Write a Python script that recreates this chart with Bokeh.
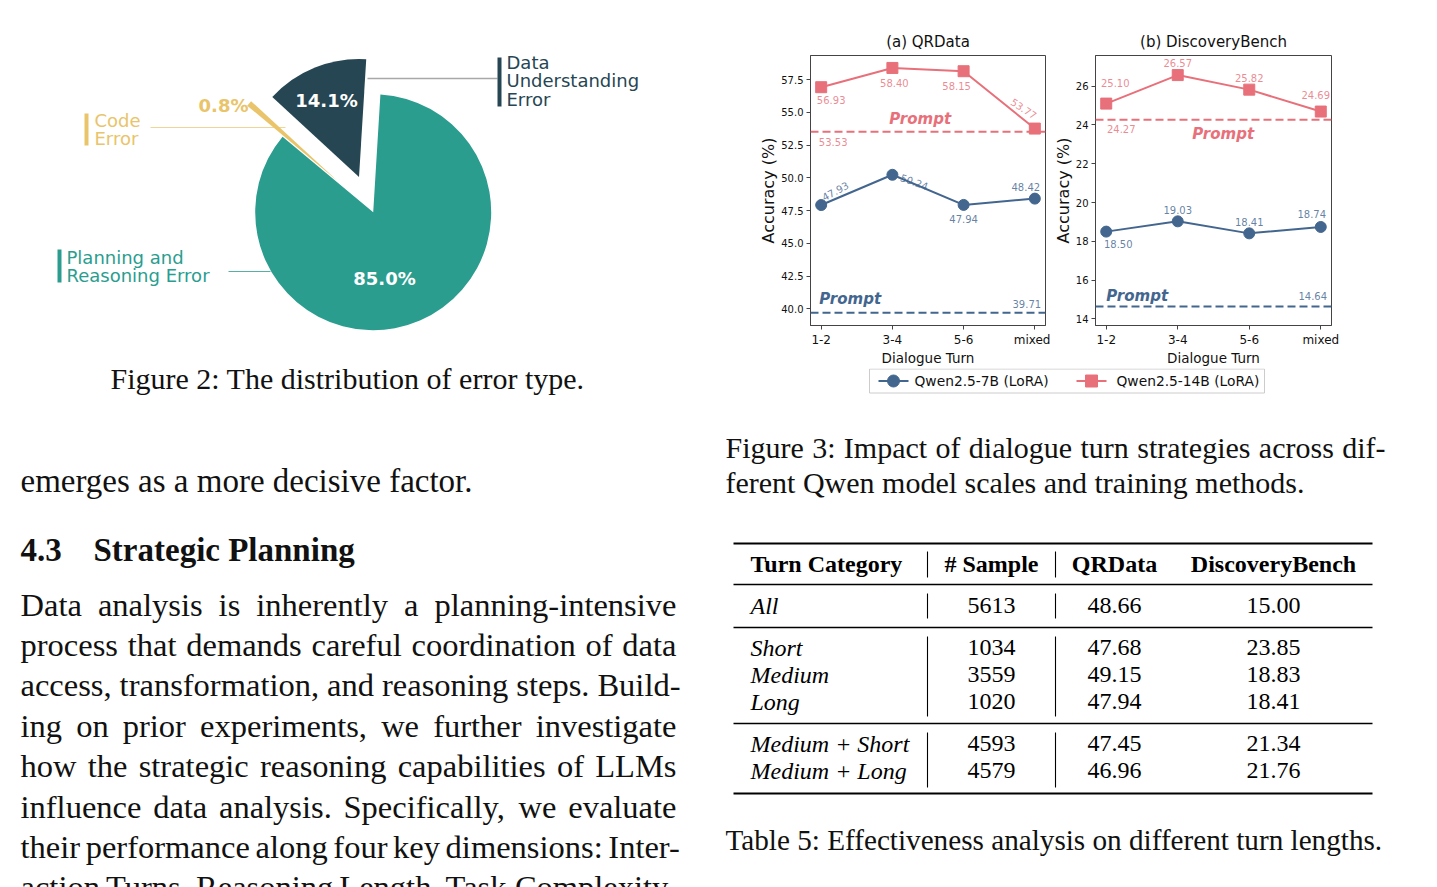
import numpy as np
from bokeh.plotting import figure
from bokeh.layouts import row, column
from bokeh.models import (Range1d, FixedTicker, NumeralTickFormatter, Label, Span)
from bokeh.embed import file_html
from bokeh.resources import INLINE

# ---------------- data ----------------
error_names = [["Data", "Understanding", "Error"], ["Code", "Error"], ["Planning and", "Reasoning Error"]]
error_share = [14.1, 0.8, 85.0]

turns = ["1-2", "3-4", "5-6", "mixed"]
qr_7b = [47.93, 50.24, 47.94, 48.42]
qr_14b = [56.93, 58.40, 58.15, 53.77]
qr_prompt_7b = 39.71
qr_prompt_14b = 53.53
db_7b = [18.50, 19.03, 18.41, 18.74]
db_14b = [25.10, 26.57, 25.82, 24.69]
db_prompt_7b = 14.64
db_prompt_14b = 24.27
series_names = ["Qwen2.5-7B (LoRA)", "Qwen2.5-14B (LoRA)"]

table_header = ["Turn Category", "# Sample", "QRData", "DiscoveryBench"]
table_category = ["All", "Short", "Medium", "Long", "Medium + Short", "Medium + Long"]
table_samples = [5613, 1034, 3559, 1020, 4593, 4579]
table_qrdata = [48.66, 47.68, 49.15, 47.94, 47.45, 46.96]
table_discovery = [15.00, 23.85, 18.83, 18.41, 21.34, 21.76]

# ---------------- styles ----------------
TEAL, DARK, GOLD = "#2a9d8f", "#264653", "#e9c46a"
BLUE, RED = "#43668f", "#e8707a"
SERIF = "Liberation Serif"
SANS = "DejaVu Sans"

# Times-compatible advance widths (1/1000 em), used to justify lines
_TW = {" ": 250, ",": 250, ".": 250, ":": 278, ";": 278, "-": 333, "(": 333, ")": 333, "+": 564}
_TW.update({d: 500 for d in "0123456789"})
_TW.update(dict(zip("ABCDEFGHIJKLMNOPQRSTUVWXYZ",
                    [722, 667, 667, 722, 611, 556, 722, 722, 333, 389, 722, 611, 889,
                     722, 722, 556, 722, 667, 556, 611, 722, 722, 944, 722, 722, 611])))
_TW.update(dict(zip("abcdefghijklmnopqrstuvwxyz",
                    [444, 500, 444, 500, 444, 333, 500, 500, 278, 278, 500, 278, 778,
                     500, 500, 500, 500, 333, 389, 278, 500, 500, 722, 500, 500, 444])))


def text_width(s, size):
    return sum(_TW.get(ch, 500) for ch in s) / 1000.0 * size


def label(p, x, y, s, size, font=SERIF, style="normal", color="#111111",
          align="left", baseline="middle", angle=0, dx=0, dy=0, alpha=1.0):
    p.add_layout(Label(x=x, y=y, text=s, text_font=font, text_font_size=f"{size}px",
                       text_font_style=style, text_color=color, text_align=align,
                       text_baseline=baseline, angle=angle, angle_units="deg",
                       x_offset=dx, y_offset=dy, text_alpha=alpha))


def justified(p, s, x0, x1, y, size):
    words = s.split(" ")
    widths = [text_width(w, size) for w in words]
    gap = (x1 - x0 - sum(widths)) / max(len(words) - 1, 1)
    x = x0
    for w, wd in zip(words, widths):
        label(p, x, y, w, size)
        x += wd + gap


# ================= left column (pie + text) =================
left = figure(width=712, height=887, x_range=Range1d(0, 712), y_range=Range1d(-887, 0),
              x_axis_type=None, y_axis_type=None, output_backend="svg",
              toolbar_location=None, min_border=0, outline_line_color=None)

cx, cy, R = 372.7, -211.7, 118.0
start_deg = 86.5
explode_px = [38, 47, 0]
colors = [DARK, GOLD, TEAL]
frac = np.array(error_share) / np.sum(error_share)
edges = start_deg + 360 * np.concatenate([[0], np.cumsum(frac)])
a0, a1 = edges[:-1], edges[1:]
mid = np.radians((a0 + a1) / 2)
wx = cx + np.array(explode_px) * np.cos(mid)
wy = cy + np.array(explode_px) * np.sin(mid)
left.wedge(x=wx, y=wy, radius=R, start_angle=a0, end_angle=a1,
           start_angle_units="deg", end_angle_units="deg", direction="anticlock",
           fill_color=colors, line_color=None)

# percent labels
pct_pos = [(326, -100, "white"), (223, -105, GOLD), (384, -278, "white")]
for v, (px, py, c) in zip(error_share, pct_pos):
    label(left, px, py, f"{v:.1f}%", 18, font=SANS, style="bold", color=c, align="center")

# leader lines and category tags
left.line([367, 497], [-78, -78], line_color="#a8a8a8", line_width=1.5)
left.line([150, 285], [-127, -127], line_color=GOLD, line_alpha=0.7, line_width=1.2)
left.line([228, 270], [-271, -271], line_color=TEAL, line_alpha=0.8, line_width=1.2)
tag_bars = [(499, -57, -106), (86, -113, -145), (59, -249, -282)]
tag_text = [(506, [-62, -80, -99]), (94, [-120, -138]), (66, [-257, -275])]
for name, c, (bx, b0, b1), (tx, tys) in zip(error_names, colors, tag_bars, tag_text):
    left.line([bx, bx], [b0, b1], line_color=c, line_width=4)
    for s, ty in zip(name, tys):
        label(left, tx, ty, s, 18, font=SANS, color=c)

label(left, 110, -378, "Figure 2: The distribution of error type.", 30)

label(left, 20, -480, "emerges as a more decisive factor.", 33)
label(left, 20, -549, "4.3", 33, style="bold")
label(left, 93, -549, "Strategic Planning", 33, style="bold")
para = ["Data analysis is inherently a planning-intensive",
        "process that demands careful coordination of data",
        "access, transformation, and reasoning steps. Build-",
        "ing on prior experiments, we further investigate",
        "how the strategic reasoning capabilities of LLMs",
        "influence data analysis. Specifically, we evaluate",
        "their performance along four key dimensions: Inter-",
        "action Turns, Reasoning Length, Task Complexity,"]
for k, s in enumerate(para):
    right_edge = 680 if s.endswith("-") else 676
    justified(left, s, 20, right_edge, -(604 + 40.4 * k), 32.5)


# ================= line charts =================
def make_chart(title, y7, y14, p7, p14, yr, ticks, fmt, width, bl, br,
               off7, ang7, off14, ang14, prompt_cfg):
    p = figure(width=width, height=368, x_range=Range1d(-0.15, 3.15), y_range=Range1d(*yr),
               output_backend="svg", toolbar_location=None, title=title,
               min_border_left=bl, min_border_right=br, min_border_top=55, min_border_bottom=42,
               outline_line_color="#444444", outline_line_width=1)
    p.title.align = "center"
    p.title.text_font = SANS
    p.title.text_font_size = "15px"
    p.title.text_font_style = "normal"
    p.title.text_color = "#111111"
    p.xgrid.visible = False
    p.ygrid.visible = False
    xs = list(range(len(turns)))
    p.xaxis.ticker = FixedTicker(ticks=xs)
    p.xaxis.major_label_overrides = {i: t for i, t in enumerate(turns)}
    p.yaxis.ticker = FixedTicker(ticks=ticks)
    p.yaxis.formatter = NumeralTickFormatter(format=fmt)
    p.xaxis.axis_label = "Dialogue Turn"
    p.yaxis.axis_label = "Accuracy (%)"
    for ax, lsize, tsize in ((p.xaxis, "13.5px", "12px"), (p.yaxis, "16px", "10px")):
        ax.axis_label_text_font = SANS
        ax.axis_label_text_font_style = "normal"
        ax.axis_label_text_font_size = lsize
        ax.axis_label_text_color = "#111111"
        ax.major_label_text_font = SANS
        ax.major_label_text_font_size = tsize
        ax.major_label_text_color = "#111111"
        ax.major_tick_in = 0
        ax.major_tick_out = 4
        ax.minor_tick_line_color = None
        ax.axis_line_color = "#444444"
        ax.major_tick_line_color = "#444444"
        ax.axis_label_standoff = 0
    p.xaxis.major_label_standoff = 3
    p.yaxis.major_label_standoff = 3

    for pv, c in ((p14, RED), (p7, BLUE)):
        p.add_layout(Span(location=pv, dimension="width", line_color=c,
                          line_width=2, line_dash="8 4"))
    p.line(xs, y14, line_color=RED, line_width=2)
    p.scatter(xs, y14, marker="square", size=11, color=RED)
    p.line(xs, y7, line_color=BLUE, line_width=2)
    p.scatter(xs, y7, marker="circle", size=11, color=BLUE)

    for ys, offs, angs, c in ((y14, off14, ang14, RED), (y7, off7, ang7, BLUE)):
        for i, (v, (dx, dy), a) in enumerate(zip(ys, offs, angs)):
            label(p, i, v, f"{v:.2f}", 10, font=SANS, color=c, align="center",
                  angle=a, dx=dx, dy=dy, alpha=0.82)
    for pv, c, (vx, vdx, vdy), (tdx, tdy) in prompt_cfg:
        label(p, vx, pv, f"{pv:.2f}", 10, font=SANS, color=c, align="center",
              dx=vdx, dy=vdy, alpha=0.82)
        label(p, 0, pv, "Prompt", 15, font=SANS, style="bold italic", color=c,
              align="center", dx=tdx, dy=tdy)
    return p


fa = make_chart("(a) QRData", qr_7b, qr_14b, qr_prompt_7b, qr_prompt_14b,
                (38.73, 59.35), [40 + 2.5 * k for k in range(8)], "0.0", 338, 98, 5,
                [(14, 14), (22, -7), (0, -14), (-9, 12)], [28, -20, 0, 0],
                [(10, -13), (2, -15), (-7, -15), (-11, 20)], [0, 0, 0, -33],
                [(qr_prompt_14b, RED, (0, 12, -10.5), (99, 13)),
                 (qr_prompt_7b, BLUE, (3, -8, 8.5), (29, 13.5))])
fb = make_chart("(b) DiscoveryBench", db_7b, db_14b, db_prompt_7b, db_prompt_14b,
                (13.66, 27.58), [14 + 2 * k for k in range(7)], "0", 387, 45, 106,
                [(12, -12), (0, 11), (0, 11), (-9, 13)], [0, 0, 0, 0],
                [(9, 21), (0, 12), (0, 12), (-5, 17)], [0, 0, 0, 0],
                [(db_prompt_14b, RED, (0, 15, -9), (117, -14)),
                 (db_prompt_7b, BLUE, (3, -8, 10), (31, 10))])

# ================= bottom right (legend, captions, table) =================
br_fig = figure(width=725, height=519, x_range=Range1d(712, 1437), y_range=Range1d(-887, -368),
                x_axis_type=None, y_axis_type=None, output_backend="svg",
                toolbar_location=None, min_border=0, outline_line_color=None)

# legend (shared by both panels)
br_fig.quad(left=[869], right=[1264], top=[-368.5], bottom=[-392.5], fill_color="white",
            line_color="#cccccc", line_width=1)
leg_y = -380.5
for (gx, tx), name, c, mk in zip([(893, 914), (1091, 1116)], series_names, [BLUE, RED],
                                 ["circle", "square"]):
    br_fig.line([gx - 15, gx + 15], [leg_y, leg_y], line_color=c, line_width=2)
    br_fig.scatter([gx], [leg_y], marker=mk, size=12, color=c)
    label(br_fig, tx, leg_y, name, 13.8, font=SANS)

justified(br_fig, "Figure 3: Impact of dialogue turn strategies across dif-", 725, 1385, -447, 30)
label(br_fig, 725, -482, "ferent Qwen model scales and training methods.", 30)
label(br_fig, 725, -839, "Table 5: Effectiveness analysis on different turn lengths.", 29.2)

# table rules
rules = [(543, 2.2), (584, 1.3), (627, 1.3), (723, 1.3), (793, 2.2)]
for ry, lw in rules:
    br_fig.line([733, 1372], [-ry, -ry], line_color="black", line_width=lw)
vspans = [(551, 577), (593, 618), (636, 716), (732, 787)]
for vx in (927, 1055):
    for v0, v1 in vspans:
        br_fig.line([vx, vx], [-v0, -v1], line_color="black", line_width=1.1)

col_x = [750, 991, 1114, 1273]
hy = 563
label(br_fig, col_x[0], -hy, table_header[0], 24, style="bold", color="black")
for s, x in zip(table_header[1:], col_x[1:]):
    label(br_fig, x, -hy, s, 24, style="bold", color="black", align="center")
row_y = [605, 647, 674, 701, 743, 770]
for cat, n, q, d, ry in zip(table_category, table_samples, table_qrdata, table_discovery, row_y):
    label(br_fig, col_x[0], -ry, cat, 24, style="italic", color="black")
    for s, x in zip([f"{n}", f"{q:.2f}", f"{d:.2f}"], col_x[1:]):
        label(br_fig, x, -ry, s, 24, color="black", align="center")

layout = row(left, column(row(fa, fb), br_fig))
open("out.html", "w").write(file_html(layout, INLINE))
